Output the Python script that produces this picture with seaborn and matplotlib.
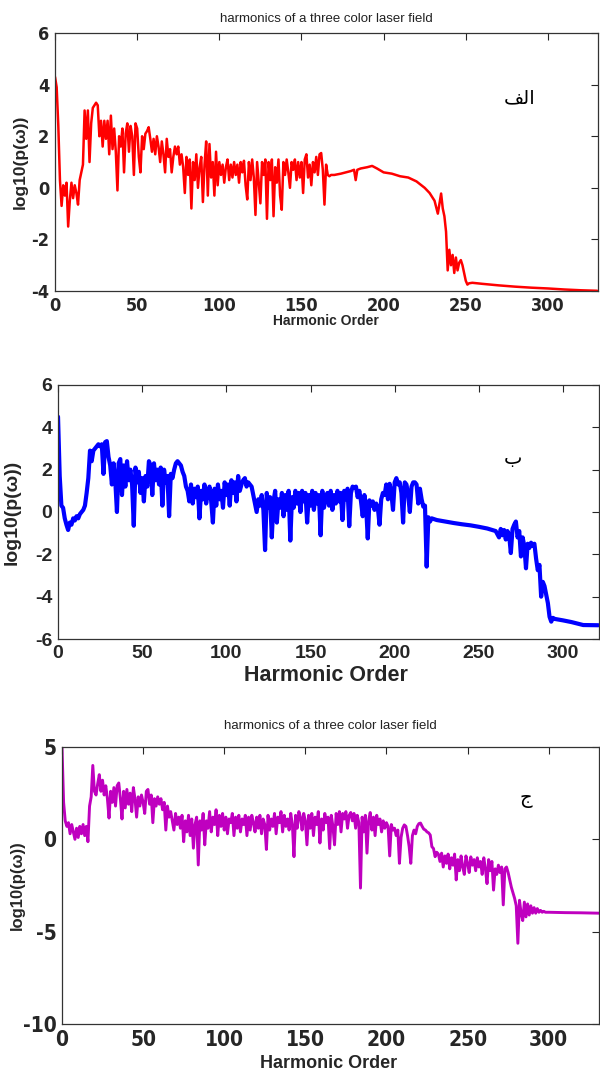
"""
Harmonic spectra of a three colour laser field, three stacked panels.
"""

import os
import numpy as np
import pandas as pd
import matplotlib
matplotlib.use('Agg')
import matplotlib.pyplot as plt
from matplotlib import font_manager
from matplotlib.font_manager import FontProperties
import seaborn as sns


## Data
# Panel (a), red: dense part at integer orders 0..169, then smooth tail
p1_dense = [4.3, 3.9, 2.4, 0.3, -0.7, 0.1, -0.3, 0.2, -1.5, -0.5,
            0.2, -0.4, 0.1, -0.2, -0.65, 0.3, 0.6, 0.9, 3.0, 1.9,
            3.0, 1.0, 2.5, 3.1, 3.2, 3.3, 3.2, 2.0, 2.6, 1.6,
            2.6, 1.9, 2.6, 1.3, 2.8, 1.5, 2.3, 1.4, -0.1, 2.0,
            1.6, 2.3, 0.6, 2.1, 2.5, 1.4, 2.4, 2.0, 0.5, 2.5,
            2.3, 1.2, 0.6, 2.0, 1.5, 2.1, 2.2, 2.35, 1.9, 1.4,
            1.9, 1.3, 2.0, 1.6, 1.0, 1.8, 1.3, 0.6, 1.9, 1.2,
            1.5, 0.6, 1.2, 1.6, 1.3, 1.6, 0.9, 1.3, 0.8, -0.2,
            1.2, 0.5, 1.1, -0.8, 1.0, 0.3, 1.3, 0.0, 0.8, 1.2,
            -0.55, 0.9, 1.8, -0.3, 1.7, 0.4, 1.0, -0.3, 1.4, 0.1,
            1.0, 0.5, 0.9, 0.2, 0.8, 1.1, 0.3, 0.9, 0.4, 1.0,
            0.5, 0.9, 0.2, 1.0, 0.6, 1.05, 0.1, -0.45, 1.0, 0.3,
            1.1, 0.4, -1.05, 1.0, 0.2, -0.6, 1.0, 0.5, 1.1, -1.2,
            1.0, 0.3, 1.1, -1.1, 0.8, 0.2, 1.1, -0.3, -0.85, 1.0,
            0.5, 1.1, 0.6, 0.0, 1.0, 0.7, 1.1, 0.3, 1.0, 0.4,
            1.0, -0.2, 1.1, 1.3, 0.4, 0.9, 0.1, 1.0, 0.6, 1.2,
            0.5, 1.3, 1.35, 0.7, -0.65, 0.9, 0.5, 0.45, 0.5, 0.5]
p1_tail_order = [170, 174, 177, 180, 182, 183, 184, 186, 190, 193, 196, 200,
                 205, 210, 215, 220, 225, 228, 231, 233, 234, 235, 236, 237,
                 238, 239, 240, 241, 242, 243, 244, 245, 246, 247, 248, 249,
                 250, 251, 252, 254, 260, 270, 280, 290, 300, 310, 320, 330]
p1_tail_level = [0.5, 0.55, 0.6, 0.65, 0.7, 0.3, 0.7, 0.75, 0.8, 0.85, 0.75, 0.6,
                 0.55, 0.45, 0.4, 0.25, 0.0, -0.2, -0.5, -1.0, -0.6, -0.22, -0.8, -1.1,
                 -1.7, -3.2, -2.4, -3.0, -2.6, -3.3, -2.7, -3.2, -2.9, -2.8, -3.0, -3.3,
                 -3.6, -3.75, -3.7, -3.68, -3.72, -3.78, -3.83, -3.87, -3.9, -3.94, -3.97, -3.99]

# Panel (b), blue: dense part at integer orders 0..220, then tail
p2_dense = [4.5, 1.7, 0.3, 0.2, -0.3, -0.6, -0.85, -0.5, -0.6, -0.3,
            -0.4, -0.2, -0.3, -0.1, 0.0, 0.1, 0.3, 0.9, 1.6, 2.9,
            2.4, 2.9, 3.0, 3.1, 3.2, 3.1, 3.2, 1.8, 3.3, 3.35,
            2.6, 2.2, 1.3, 2.3, 1.5, 0.0, 2.3, 2.5, 0.8, 2.2,
            1.2, 2.4, 1.5, 2.0, 1.3, -0.65, 2.1, 1.4, 1.9, 0.9,
            1.6, 0.5, 1.7, 1.2, 2.4, 2.2, 0.8, 2.3, 1.5, 2.0,
            1.3, 2.1, 0.3, 2.0, 1.4, 1.7, -0.2, 1.8, 1.6, 2.0,
            2.3, 2.4, 2.3, 2.2, 1.9, 1.7, 1.2, 1.0, 0.5, 1.3,
            0.4, 1.1, 0.7, 1.2, -0.3, 1.0, 0.6, 1.3, 0.4, 0.9,
            1.2, 0.5, -0.5, 1.1, 0.3, 1.3, 0.6, 1.0, 0.2, 1.4,
            0.8, 1.3, 0.3, 1.5, 0.9, 1.4, 0.5, 1.7, 1.0, 1.3,
            1.5, 1.6, 1.2, 1.4, 1.3, 1.2, 0.8, 0.4, 0.0, 0.6,
            0.3, 0.8, 0.1, -1.8, 0.9, 0.2, 0.7, -1.2, 0.5, 1.0,
            -0.5, 0.6, 0.2, 0.9, -0.2, 0.8, 0.1, 1.0, -1.35, 0.7,
            0.2, 1.0, 0.4, 0.9, 0.0, 1.0, 0.5, 0.9, -0.5, 0.8,
            0.3, 1.0, 0.1, 0.9, 0.4, 0.8, -1.1, 1.0, 0.2, 0.7,
            0.9, 0.3, 1.0, 0.1, 0.8, 0.4, 1.0, 0.5, 0.9, -0.38,
            1.0, 0.6, 1.1, -0.67, 0.9, 1.2, 1.15, 1.2, 0.7, 1.0,
            0.5, -0.2, 0.8, 0.3, -1.25, 0.55, 0.3, 0.5, 0.1, 0.4,
            0.2, -0.6, 0.6, 0.9, 0.8, 1.3, 0.6, 1.33, 0.9, 0.1,
            1.4, 1.6, 1.3, 1.4, 0.9, -0.5, 1.4, 1.3, 0.8, 0.0,
            1.2, 1.4, 1.4, 1.3, 0.4, 1.1, 0.6, 0.25, 0.3, -2.58,
            -0.25]
p2_tail_order = [221, 222, 225, 230, 235, 240, 245, 250, 255, 260, 262, 263,
                 264, 265, 266, 267, 268, 269, 270, 271, 272, 273, 274, 275,
                 276, 277, 278, 279, 280, 281, 282, 283, 284, 285, 286, 287,
                 288, 289, 290, 291, 292, 293, 294, 295, 300, 305, 312, 321]
p2_tail_level = [-0.45, -0.3, -0.38, -0.45, -0.52, -0.58, -0.63, -0.7, -0.78, -0.9, -1.2, -0.8,
                 -1.1, -0.85, -1.3, -0.9, -1.1, -1.94, -0.8, -0.6, -0.45, -1.2, -0.9, -2.1,
                 -1.2, -1.6, -2.66, -1.5, -1.7, -1.45, -1.6, -1.5, -2.2, -2.75, -2.5, -4.0,
                 -3.3, -3.5, -3.9, -4.3, -4.95, -5.18, -5.0, -5.05, -5.12, -5.2, -5.34, -5.35]

# Panel (c), magenta: dense part at integer orders 0..299, then flat tail
p3_dense = [5.0, 2.0, 1.0, 0.7, 0.9, 0.3, 0.8, 0.4, 0.0, 0.6,
            0.1, 0.7, 0.3, 0.8, 0.2, 0.7, -0.13, 1.8, 2.3, 4.0,
            2.6, 2.4, 3.0, 3.5, 2.6, 3.2, 2.4, 2.9, 2.2, 1.15,
            2.6, 2.0, 2.8, 1.8, 2.9, 3.05, 2.2, 1.1, 2.6, 1.7,
            2.7, 1.9, 2.5, 1.5, 2.8, 2.2, 1.2, 2.3, 1.8, 2.4,
            2.0, 1.4, 2.6, 2.7, 1.9, 2.4, 0.9, 2.2, 1.8, 2.3,
            1.9, 2.2, 1.6, 2.0, 0.5, 1.8, 1.2, 1.5, 1.0, 0.5,
            1.4, 0.8, 1.2, 0.6, 1.3, -0.13, 1.0, 0.4, 1.3, 0.2,
            1.1, -0.48, 0.8, 1.2, -1.39, 1.0, 0.5, 1.4, -0.3, 1.0,
            0.6, 1.5, 0.4, 1.2, 0.8, 1.6, 0.2, 1.3, 0.7, 1.4,
            0.5, 1.2, 0.3, 1.1, 0.9, 1.4, 0.2, 1.2, 0.6, 1.3,
            0.4, 1.1, 0.8, 1.3, 0.2, 1.2, 0.5, 1.3, 0.9, 0.4,
            1.2, 0.6, 1.3, 0.3, 1.1, 0.8, -0.55, 1.3, 0.5, 1.1,
            0.7, 1.4, 0.3, 1.2, 0.9, 1.5, 0.4, 1.3, 0.7, 1.1,
            0.5, 1.4, 0.8, -0.94, 1.3, 0.6, 1.5, 1.2, 0.5, 1.4,
            1.0, -0.3, 1.3, 0.6, 1.4, 0.2, 1.2, 0.8, 1.5, -0.2,
            1.1, 0.5, 1.4, 0.9, 1.2, -0.5, 1.3, 0.7, -0.3, 1.4,
            0.8, 1.5, 0.4, 1.4, 1.1, 1.5, 0.6, 1.3, 1.45, 1.0,
            1.4, 0.6, 1.3, 0.9, -2.64, 1.2, 0.4, 1.3, -0.75, 1.0,
            1.45, 0.5, 1.2, 0.2, 1.3, 0.8, 1.1, 0.4, 1.0, 0.6,
            0.9, 0.7, -0.9, 0.8, 0.5, 0.6, 0.2, 0.5, -1.3, 0.1,
            0.6, 0.78, 0.7, 0.2, -0.4, -1.3, 0.2, 0.5, 0.3, 0.7,
            0.85, 0.88, 0.7, 0.55, 0.5, 0.4, 0.35, 0.23, -0.4, -0.5,
            -0.94, -0.7, -0.8, -1.2, -0.75, -1.5, -0.9, -1.3, -0.8, -1.6,
            -1.0, -1.4, -0.8, -2.2, -1.1, -1.7, -0.9, -1.5, -1.9, -0.9,
            -1.3, -1.8, -0.95, -1.4, -1.1, -1.7, -1.0, -1.5, -1.2, -1.9,
            -1.0, -1.6, -2.4, -1.1, -1.7, -1.2, -2.75, -1.6, -1.9, -1.4,
            -1.8, -1.5, -3.55, -1.6, -1.5, -1.8, -2.2, -2.6, -2.9, -3.2,
            -3.6, -5.63, -3.3, -4.0, -4.4, -3.4, -4.2, -3.5, -4.1, -3.6,
            -4.0, -3.7, -4.0, -3.75, -3.95, -3.85, -3.95, -3.9, -3.95, -3.95]
p3_tail_order = [300, 310, 320, 331]
p3_tail_level = [-3.95, -3.97, -3.98, -4.0]

title_text = "harmonics of a three color laser field"
x_label = "Harmonic Order"
y_label = "log10(p(ω))"
# panel marks, Arabic letters written in their shaped (presentation) forms
marks = ["\uFED2\uFEDF\uFE8D", "\u0628", "\u062C"]


def build(dense, tail_x, tail_y):
    df = pd.DataFrame({'order': np.arange(len(dense)), 'level': dense})
    tail = pd.DataFrame({'order': tail_x, 'level': tail_y})
    return pd.concat([df, tail[tail['order'] >= len(dense)]], ignore_index=True)


df1 = build(p1_dense, p1_tail_order, p1_tail_level)
df2 = build(p2_dense, p2_tail_order, p2_tail_level)
df3 = build(p3_dense, p3_tail_order, p3_tail_level)


## Fonts
sns.set_style('white')
plt.rcParams['font.family'] = ['Liberation Sans', 'DejaVu Sans']
plt.rcParams['axes.unicode_minus'] = False

# look for a narrow bold face for the condensed tick labels
prefer = ['NotoSans-CondensedBold', 'LiberationSansNarrow-Bold',
          'DejaVuSansCondensed-Bold', 'OpenSans_Condensed-Bold', 'Roboto-Bold']
files = {os.path.splitext(os.path.basename(f.fname))[0]: f.fname
         for f in font_manager.fontManager.ttflist}
narrow_file = next((files[p] for p in prefer if p in files), None)


def narrow_font(size):
    if narrow_file:
        return FontProperties(fname=narrow_file, size=size)
    return FontProperties(family='DejaVu Sans', weight='bold',
                          stretch='condensed', size=size)


## Figure
fig = plt.figure(figsize=(6, 10.7), dpi=100)

specs = [
    dict(df=df1, color='#FF0000', lw=1.8, rect=[0.0917, 0.728, 0.905, 0.2411],
         xlim=(0, 330.5), ylim=(-4, 6), yticks=[-4, -2, 0, 2, 4, 6],
         tickfont=narrow_font(13), xls=10, yls=12.5, title=True, tpad=8,
         xlab=(0.499, -0.116), ylab=(-0.064, 0.5), mark_xy=(283, 3.5)),
    dict(df=df2, color='#0000FF', lw=3.0, rect=[0.0967, 0.4028, 0.9017, 0.2374],
         xlim=(0, 321.4), ylim=(-6, 6), yticks=[-6, -4, -2, 0, 2, 4, 6],
         tickfont=FontProperties(family='Liberation Sans', weight='bold', size=14),
         xls=15.5, yls=14, title=False, tpad=8,
         xlab=(0.495, -0.142), ylab=(-0.085, 0.5), mark_xy=(270, 2.55)),
    dict(df=df3, color='#BF00BF', lw=2.1, rect=[0.1033, 0.043, 0.895, 0.2589],
         xlim=(0, 331), ylim=(-10, 5), yticks=[-10, -5, 0, 5],
         tickfont=narrow_font(15), xls=13, yls=12, title=True, tpad=13,
         xlab=(0.497, -0.141), ylab=(-0.083, 0.5), mark_xy=(286, 2.2)),
]

for i, s in enumerate(specs):
    ax = fig.add_axes(s['rect'])
    sns.lineplot(data=s['df'], x='order', y='level', ax=ax, color=s['color'],
                 linewidth=s['lw'], estimator=None, sort=False)

    ax.set_xlim(*s['xlim'])
    ax.set_ylim(*s['ylim'])
    ax.set_xticks([0, 50, 100, 150, 200, 250, 300])
    ax.set_yticks(s['yticks'])
    ax.tick_params(direction='in', top=True, right=True, length=5, width=0.8,
                   pad=4)
    for lab in ax.get_xticklabels() + ax.get_yticklabels():
        lab.set_fontproperties(s['tickfont'])
    for sp in ax.spines.values():
        sp.set_visible(True)
        sp.set_color('#333333')
        sp.set_linewidth(0.9)

    ax.set_xlabel(x_label, fontsize=s['xls'], fontweight='bold')
    ax.xaxis.label.set_va('center')
    ax.xaxis.set_label_coords(*s['xlab'])
    ax.set_ylabel(y_label, fontsize=s['yls'], fontweight='bold')
    ax.yaxis.label.set_va('center')
    ax.yaxis.set_label_coords(*s['ylab'])
    if s['title']:
        ax.set_title(title_text, fontsize=9.5, color='#222222', pad=s['tpad'])

    ax.text(s['mark_xy'][0], s['mark_xy'][1], marks[i], fontsize=14,
            family=['DejaVu Sans'], ha='center', va='center', color='black')
    ax.grid(False)

fig.savefig('out.png', dpi=100)
